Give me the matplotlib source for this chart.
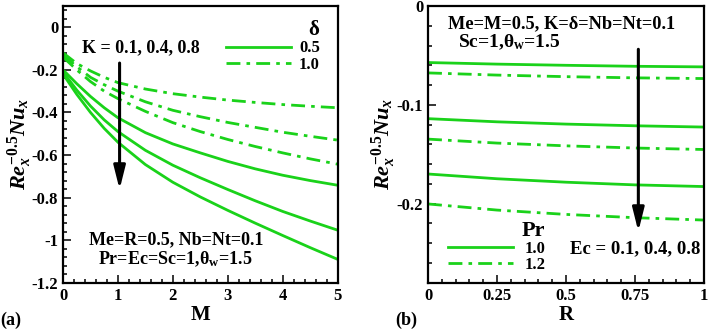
import numpy as np
import matplotlib
matplotlib.use('Agg')
import matplotlib.pyplot as plt
from matplotlib.ticker import MultipleLocator, FuncFormatter

plt.rcParams['font.family'] = ['Liberation Serif', 'DejaVu Serif']
plt.rcParams['font.weight'] = 'bold'
plt.rcParams['axes.unicode_minus'] = False
plt.rcParams['mathtext.fontset'] = 'custom'
plt.rcParams['mathtext.rm'] = 'Liberation Serif:bold'
plt.rcParams['mathtext.it'] = 'Liberation Serif:bold:italic'
plt.rcParams['mathtext.bf'] = 'Liberation Serif:bold'

# panel (a): Nusselt number vs M, K = 0.1, 0.4, 0.8
M = [0, 0.25, 0.5, 0.75, 1, 1.5, 2, 2.5, 3, 3.5, 4, 4.5, 5]
nu_a_d05 = [
    [-0.20, -0.265, -0.325, -0.378, -0.425, -0.495, -0.548, -0.590, -0.630, -0.665, -0.695, -0.720, -0.742],
    [-0.21, -0.295, -0.370, -0.435, -0.490, -0.578, -0.648, -0.707, -0.762, -0.815, -0.865, -0.910, -0.953],
    [-0.22, -0.315, -0.400, -0.475, -0.540, -0.645, -0.728, -0.797, -0.860, -0.920, -0.978, -1.035, -1.090],
]
nu_a_d10 = [
    [-0.12, -0.170, -0.205, -0.235, -0.260, -0.290, -0.312, -0.328, -0.342, -0.353, -0.363, -0.371, -0.378],
    [-0.13, -0.185, -0.235, -0.270, -0.300, -0.350, -0.390, -0.420, -0.447, -0.470, -0.493, -0.512, -0.530],
    [-0.14, -0.200, -0.255, -0.300, -0.335, -0.395, -0.448, -0.490, -0.527, -0.560, -0.590, -0.618, -0.643],
]
delta_labels = ['0.5', '1.0']

# panel (b): Nusselt number vs R, Ec = 0.1, 0.4, 0.8
R = [0, 0.25, 0.5, 0.75, 1]
nu_b_pr10 = [
    [-0.0572, -0.0588, -0.0600, -0.0610, -0.0616],
    [-0.1140, -0.1172, -0.1195, -0.1212, -0.1225],
    [-0.1700, -0.1748, -0.1783, -0.1810, -0.1827],
]
nu_b_pr12 = [
    [-0.0677, -0.0699, -0.0715, -0.0727, -0.0734],
    [-0.1347, -0.1387, -0.1415, -0.1437, -0.1452],
    [-0.2003, -0.2065, -0.2109, -0.2142, -0.2166],
]
pr_labels = ['1.0', '1.2']

green = '#1ad21a'
dashdot = (5, 2.2, 1.3, 2.2)
lw = 2.0
fs_txt = 13
fmt = FuncFormatter(lambda v, p: ('%g' % round(v, 4)))

fig = plt.figure(figsize=(7.09, 3.30), dpi=100)
ax1 = fig.add_axes([0.0889, 0.1433, 0.3872, 0.8385])
ax2 = fig.add_axes([0.6037, 0.1433, 0.3893, 0.8385])


def style_axes(ax):
    for s in ax.spines.values():
        s.set_linewidth(1.6)
    ax.tick_params(which='both', direction='in', top=False, right=False,
                   labelsize=12, width=1.1)
    ax.tick_params(which='major', length=6)
    ax.tick_params(which='minor', length=3)
    ax.xaxis.set_major_formatter(fmt)
    ax.yaxis.set_major_formatter(fmt)
    for lab in ax.get_xticklabels() + ax.get_yticklabels():
        lab.set_fontweight('bold')


# ---- panel (a)
for i, ys in enumerate(nu_a_d05):
    ax1.plot(M, ys, color=green, lw=lw, label=delta_labels[0] if i == 0 else None)
for i, ys in enumerate(nu_a_d10):
    ax1.plot(M, ys, color=green, lw=lw, dashes=dashdot, label=delta_labels[1] if i == 0 else None)
ax1.set_xlim(0, 5)
ax1.set_ylim(-1.2, 0.1)
ax1.xaxis.set_major_locator(MultipleLocator(1))
ax1.xaxis.set_minor_locator(MultipleLocator(0.2))
ax1.yaxis.set_major_locator(MultipleLocator(0.2))
ax1.yaxis.set_minor_locator(MultipleLocator(0.04))
style_axes(ax1)
ax1.set_xlabel('M', fontsize=15, fontweight='bold', labelpad=1)
ax1.set_ylabel(r'$\mathit{Re}_x^{-0.5}\mathit{Nu}_x$', fontsize=16, labelpad=-2)
ax1.annotate('', xy=(1.03, -0.775), xytext=(1.03, -0.155),
             arrowprops=dict(arrowstyle='-|>,head_length=1.4,head_width=0.35',
                             color='black', lw=2.2))
ax1.text(1.41, -0.094, 'K = 0.1, 0.4, 0.8', fontsize=fs_txt, fontweight='bold',
         ha='center', va='center')
ax1.text(2.07, -1.0, 'Me=R=0.5, Nb=Nt=0.1', fontsize=fs_txt, fontweight='bold',
         ha='center', va='center')
ax1.text(2.05, -1.09, r'Pr=Ec=Sc=1,$\mathrm{\theta_w}$=1.5', fontsize=fs_txt,
         fontweight='bold', ha='center', va='center')
leg1 = ax1.legend(loc='upper right', bbox_to_anchor=(0.96, 0.975), frameon=False,
                  title=r'$\mathrm{\delta}$', title_fontsize=15, fontsize=12,
                  handlelength=3.9, handletextpad=0.5, labelspacing=0.05,
                  alignment='right', borderaxespad=0)
for t in leg1.get_texts():
    t.set_fontweight('bold')

# ---- panel (b)
for i, ys in enumerate(nu_b_pr10):
    ax2.plot(R, ys, color=green, lw=lw, label=pr_labels[0] if i == 0 else None)
for i, ys in enumerate(nu_b_pr12):
    ax2.plot(R, ys, color=green, lw=lw, dashes=dashdot, label=pr_labels[1] if i == 0 else None)
ax2.set_xlim(0, 1)
ax2.set_ylim(-0.28, 0)
ax2.xaxis.set_major_locator(MultipleLocator(0.25))
ax2.xaxis.set_minor_locator(MultipleLocator(0.05))
ax2.yaxis.set_major_locator(MultipleLocator(0.1))
ax2.yaxis.set_minor_locator(MultipleLocator(0.02))
style_axes(ax2)
ax2.set_xlabel('R', fontsize=15, fontweight='bold', labelpad=1)
ax2.set_ylabel(r'$\mathit{Re}_x^{-0.5}\mathit{Nu}_x$', fontsize=16, labelpad=-1)
ax2.annotate('', xy=(0.762, -0.231), xytext=(0.762, -0.041),
             arrowprops=dict(arrowstyle='-|>,head_length=1.4,head_width=0.35',
                             color='black', lw=2.2))
ax2.text(0.072, -0.0175, 'Me=M=0.5, K=\u03b4=Nb=Nt=0.1', fontsize=13.2,
         fontweight='bold', ha='left', va='center')
ax2.text(0.11, -0.0365, r'Sc=1,$\mathrm{\theta_w}$=1.5', fontsize=14,
         fontweight='bold', ha='left', va='center')
ax2.text(0.985, -0.2457, 'Ec = 0.1, 0.4, 0.8', fontsize=13.5, fontweight='bold',
         ha='right', va='center')
leg2 = ax2.legend(loc='lower left', bbox_to_anchor=(0.048, 0.012), frameon=False,
                  title='Pr', title_fontsize=16, fontsize=12,
                  handlelength=3.9, handletextpad=0.7, labelspacing=0.0,
                  alignment='right', borderaxespad=0)
leg2.get_title().set_fontweight('bold')
for t in leg2.get_texts():
    t.set_fontweight('bold')

fig.text(0.0, 0.03, '(a)', fontsize=13, fontweight='bold', ha='left', va='center')
fig.text(0.557, 0.03, '(b)', fontsize=13, fontweight='bold', ha='left', va='center')

fig.savefig('out.png', dpi=100)
